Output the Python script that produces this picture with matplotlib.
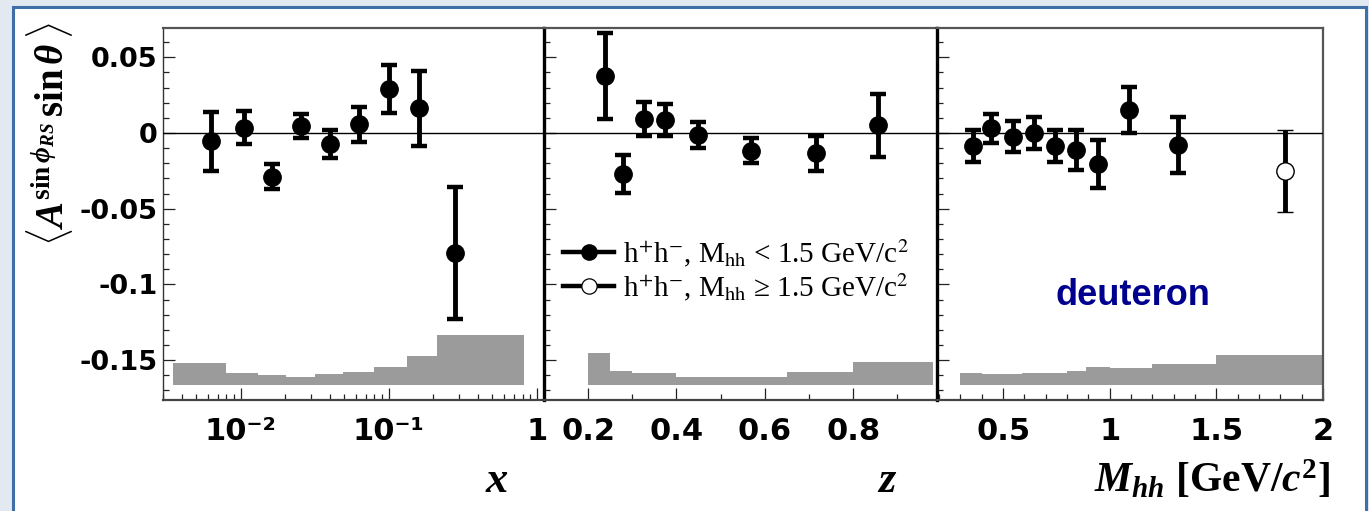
import numpy as np
import matplotlib
matplotlib.use('Agg')
import matplotlib.pyplot as plt
from matplotlib.ticker import FixedLocator, FixedFormatter, MultipleLocator, LogLocator, NullFormatter, FuncFormatter
from matplotlib.lines import Line2D
from matplotlib.patches import Rectangle

# ---------------- data ----------------
x_vals = [0.0063, 0.0105, 0.0164, 0.0254, 0.040, 0.063, 0.100, 0.160, 0.279]
x_asym = [-0.0053, 0.0035, -0.0289, 0.0046, -0.0073, 0.0059, 0.0289, 0.0163, -0.0791]
x_err = [0.0195, 0.011, 0.0083, 0.008, 0.0092, 0.0115, 0.0158, 0.025, 0.0435]
x_sys_edges = [0.0035, 0.0080, 0.0132, 0.0204, 0.0316, 0.0494, 0.080, 0.132, 0.210, 0.82]
x_sys_top = [-0.1518, -0.1586, -0.1601, -0.1610, -0.1594, -0.1579, -0.1548, -0.1472, -0.1337]

z_vals = [0.239, 0.278, 0.326, 0.374, 0.448, 0.568, 0.716, 0.857]
z_asym = [0.0377, -0.0271, 0.0093, 0.0086, -0.0013, -0.0117, -0.0134, 0.0051]
z_err = [0.0283, 0.0127, 0.011, 0.0107, 0.0085, 0.0084, 0.0116, 0.0207]
z_sys_edges = [0.2, 0.25, 0.30, 0.40, 0.65, 0.80, 0.98]
z_sys_top = [-0.1452, -0.1573, -0.1586, -0.1610, -0.1581, -0.1513]

m_vals = [0.3575, 0.445, 0.545, 0.645, 0.745, 0.842, 0.945, 1.092, 1.319]
m_asym = [-0.0086, 0.0031, -0.0024, -0.0002, -0.0084, -0.0112, -0.0205, 0.0152, -0.0079]
m_err = [0.0106, 0.0096, 0.0101, 0.0106, 0.0106, 0.0134, 0.016, 0.0152, 0.0185]
m_high_vals = [1.822]
m_high_asym = [-0.0251]
m_high_err = [0.0269]
m_sys_edges = [0.30, 0.40, 0.59, 0.80, 0.89, 1.0, 1.2, 1.5, 2.0]
m_sys_top = [-0.1588, -0.1594, -0.1586, -0.1573, -0.1548, -0.1555, -0.1526, -0.1465]

sys_base = -0.1667

x_ticks = [0.01, 0.1, 1]
x_ticklabels = ['10\u207b\u00b2', '10\u207b\u00b9', '1']
z_ticks = [0.2, 0.4, 0.6, 0.8]
z_ticklabels = ['0.2', '0.4', '0.6', '0.8']
m_ticks = [0.5, 1.0, 1.5, 2.0]
m_ticklabels = ['0.5', '1', '1.5', '2']

legend_labels = [r'h$^{+}$h$^{-}$, M$_{\mathrm{hh}}$ < 1.5 GeV/c$^{2}$',
                 r'h$^{+}$h$^{-}$, M$_{\mathrm{hh}}$ ≥ 1.5 GeV/c$^{2}$']

# ---------------- style ----------------
plt.rcParams['mathtext.fontset'] = 'custom'
plt.rcParams['mathtext.rm'] = 'Liberation Serif:bold'
plt.rcParams['mathtext.it'] = 'Liberation Serif:bold:italic'
plt.rcParams['mathtext.bf'] = 'Liberation Serif:bold'

W, H = 1369, 511
fig = plt.figure(figsize=(W / 100, H / 100), dpi=100)
fig.patch.set_facecolor('#e3e9f1')
fig.patches.append(Rectangle((13 / W, -0.05), (1366 - 13) / W, 1.05 - 7 / H,
                             transform=fig.transFigure, facecolor='white',
                             edgecolor='#3f6fa8', linewidth=2.2, zorder=-10))

bottom = 1 - 400 / H
height = (400 - 28) / H
ax1 = fig.add_axes([163 / W, bottom, (544 - 163) / W, height])
ax2 = fig.add_axes([544 / W, bottom, (937 - 544) / W, height])
ax3 = fig.add_axes([937 / W, bottom, (1323 - 937) / W, height])
axes = [ax1, ax2, ax3]

ylim = (-0.1764, 0.0694)
ebkw = dict(fmt='o', color='black', ms=12.5, elinewidth=3.5, capsize=5.6, capthick=3.2, zorder=5)

# panel x
ax1.set_xscale('log')
ax1.stairs(x_sys_top, x_sys_edges, baseline=sys_base, fill=True, color='#9b9b9b', zorder=2)
ax1.errorbar(x_vals, x_asym, yerr=x_err, **ebkw)
ax1.set_xlim(0.003, 1.115)
ax1.xaxis.set_major_locator(FixedLocator(x_ticks))
ax1.xaxis.set_major_formatter(FixedFormatter(x_ticklabels))
ax1.xaxis.set_minor_locator(LogLocator(base=10, subs=np.arange(2, 10)))
ax1.xaxis.set_minor_formatter(NullFormatter())

# panel z
ax2.stairs(z_sys_top, z_sys_edges, baseline=sys_base, fill=True, color='#9b9b9b', zorder=2)
ax2.errorbar(z_vals, z_asym, yerr=z_err, **ebkw)
ax2.set_xlim(0.1, 0.99)
ax2.xaxis.set_major_locator(FixedLocator(z_ticks))
ax2.xaxis.set_major_formatter(FixedFormatter(z_ticklabels))
ax2.xaxis.set_minor_locator(MultipleLocator(0.1))

# panel M
ax3.stairs(m_sys_top, m_sys_edges, baseline=sys_base, fill=True, color='#9b9b9b', zorder=2)
ax3.errorbar(m_vals, m_asym, yerr=m_err, **ebkw)
ax3.errorbar(m_high_vals, m_high_asym, yerr=m_high_err, fmt='o', color='black', mfc='white',
             mec='black', mew=1.0, ms=12.5, elinewidth=3.5, capsize=5.6, capthick=3.2, zorder=5)
ax3.set_xlim(0.19, 2.0)
ax3.xaxis.set_major_locator(FixedLocator(m_ticks))
ax3.xaxis.set_major_formatter(FixedFormatter(m_ticklabels))
ax3.xaxis.set_minor_locator(MultipleLocator(0.1))

for i, ax in enumerate(axes):
    ax.set_ylim(*ylim)
    ax.axhline(0, color='black', lw=1.0, zorder=3)
    ax.yaxis.set_major_locator(MultipleLocator(0.05))
    ax.yaxis.set_minor_locator(MultipleLocator(0.01))
    ax.tick_params(axis='both', which='both', direction='in', top=False, right=False,
                   color='#222222', width=0.9)
    ax.tick_params(axis='both', which='major', length=8.6)
    ax.tick_params(axis='both', which='minor', length=4.6)
    ax.tick_params(axis='x', which='major', pad=12, labelsize=22)
    ax.spines['top'].set_color('#555555')
    ax.spines['top'].set_linewidth(1.6)
    ax.spines['bottom'].set_color('#444444')
    ax.spines['bottom'].set_linewidth(1.6)
    ax.spines['right'].set_visible(False)
    if i == 0:
        ax.spines['left'].set_color('#333333')
        ax.spines['left'].set_linewidth(1.0)
        ax.yaxis.set_major_formatter(FuncFormatter(lambda v, p: '0' if abs(v) < 1e-9 else f'{v:g}'))
        ax.tick_params(axis='y', which='major', pad=4, labelsize=19.5)
    else:
        ax.spines['left'].set_color('black')
        ax.spines['left'].set_linewidth(2.4)
        ax.tick_params(axis='y', labelleft=False)
    for lbl in ax.get_xticklabels() + ax.get_yticklabels():
        lbl.set_fontweight('bold')
        lbl.set_fontfamily('DejaVu Sans')
ax3.spines['right'].set_visible(True)
ax3.spines['right'].set_color('#555555')
ax3.spines['right'].set_linewidth(1.6)

# y label
fig.text(50 / W, 1 - 134 / H, r'$\langle A^{\mathrm{sin}\,\phi_{RS}}\,\mathrm{sin}\,\theta\,\rangle$',
         rotation=90, ha='center', va='center', fontsize=28)

# x titles
fig.text(497 / W, 1 - 480 / H, r'$x$', ha='center', va='center', fontsize=32)
fig.text(887 / W, 1 - 480 / H, r'$z$', ha='center', va='center', fontsize=32)
fig.text(1330 / W, 1 - 480 / H, r'$M_{hh}$ [GeV/$c^{2}$]', ha='right', va='center', fontsize=30,
         fontfamily='Liberation Serif', fontweight='bold')

# legend
h1 = Line2D([], [], color='black', lw=3.2, marker='o', ms=11, mfc='black', mec='black')
h2 = Line2D([], [], color='black', lw=3.2, marker='o', ms=11, mfc='white', mec='black', mew=0.9)
leg = ax2.legend([h1, h2], legend_labels, loc='center left',
                 bbox_to_anchor=(563 / W, 1 - 270 / H), bbox_transform=fig.transFigure,
                 frameon=False, borderpad=0, borderaxespad=0, handlelength=1.75,
                 handletextpad=0.3, labelspacing=0.05,
                 prop={'family': 'Liberation Serif', 'size': 21})
for t in leg.get_texts():
    t.set_math_fontfamily('stix')

# deuteron
fig.text(1133 / W, 1 - 295 / H, 'deuteron', color='#00008f', fontsize=26, fontweight='bold',
         fontfamily='Liberation Sans', ha='center', va='center')

fig.savefig('out.png', dpi=100, facecolor=fig.get_facecolor())
